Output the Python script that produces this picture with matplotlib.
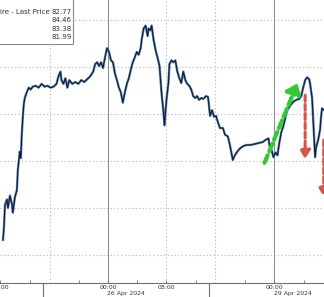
import matplotlib
matplotlib.use("Agg")
import matplotlib.pyplot as plt
from matplotlib.transforms import blended_transform_factory

# chart time in hours from 26 Apr 00:00 (weekend compressed as on the terminal)
hours = [-14.37, -14.24, -14.10, -13.83, -13.69, -13.42, -13.15, -13.02, -12.75, -12.47,
         -12.34, -12.07, -11.93, -11.80, -11.66, -11.53, -11.39, -11.12, -10.85, -10.58,
         -10.31, -9.90, -9.49, -9.08, -8.68, -8.27, -7.86, -7.46, -7.05, -6.78,
         -6.51, -6.37, -6.10, -5.83, -5.56, -5.29, -4.88, -4.47, -4.07, -3.66,
         -3.25, -2.85, -2.44, -2.03, -1.76, -1.49, -1.22, -0.95, -0.68, -0.41,
         -0.14, 0.14, 0.41, 0.68, 0.95, 1.22, 1.49, 1.76, 2.03, 2.31,
         2.58, 2.85, 3.12, 3.39, 3.66, 3.93, 4.20, 4.47, 4.61, 4.88,
         5.15, 5.42, 5.56, 5.83, 5.97, 6.24, 6.51, 6.78, 7.05, 7.32,
         7.59, 7.73, 8.00, 8.27, 8.41, 8.68, 8.95, 9.22, 9.49, 9.76,
         10.03, 10.31, 10.58, 10.85, 11.12, 11.39, 11.66, 11.93, 12.20, 12.47,
         12.75, 13.02, 13.42, 13.69, 13.97, 14.24, 14.51, 14.78, 15.05, 15.32,
         15.73, 16.00, 16.41, 16.68, 16.95, 17.08, 17.36, 17.63, 17.90, 18.17,
         18.58, 18.98, 19.53, 20.07, 20.61, 21.15, 21.69, 21.97, 22.10, 22.37,
         22.64, 22.92, 23.19, 23.46, 23.73, 24.00, 24.27, 24.54, 24.95, 25.36,
         25.76, 26.17, 26.44, 26.71, 26.98, 27.25, 27.53, 27.66, 27.93, 28.07,
         28.20, 28.34, 28.47, 28.75, 29.02, 29.15, 29.29, 29.56]
price = [82.16, 82.29, 82.53, 82.59, 82.50, 82.63, 82.54, 82.45, 82.61, 82.69,
         82.90, 83.10, 83.03, 83.28, 83.46, 83.60, 83.67, 83.73, 83.78, 83.76,
         83.79, 83.80, 83.78, 83.82, 83.79, 83.80, 83.78, 83.79, 83.82, 83.90,
         83.95, 83.86, 83.82, 83.88, 83.78, 83.86, 83.82, 83.84, 83.82, 83.86,
         83.84, 83.87, 83.90, 83.95, 84.03, 84.05, 84.01, 84.05, 83.99, 84.10,
         84.20, 84.16, 84.07, 84.05, 83.93, 83.86, 83.78, 83.73, 83.62, 83.73,
         83.82, 83.88, 83.97, 84.05, 84.10, 84.16, 84.13, 84.20, 84.29, 84.41,
         84.44, 84.33, 84.41, 84.39, 84.44, 84.29, 84.18, 84.10, 84.01, 83.73,
         83.52, 83.38, 83.65, 83.83, 84.03, 84.07, 84.05, 84.07, 83.95, 83.88,
         83.83, 83.95, 83.86, 83.82, 83.80, 83.76, 83.69, 83.67, 83.69, 83.65,
         83.67, 83.66, 83.69, 83.68, 83.48, 83.54, 83.47, 83.48, 83.41, 83.35,
         83.35, 83.28, 83.26, 83.17, 83.06, 83.01, 83.06, 83.09, 83.12, 83.14,
         83.16, 83.17, 83.17, 83.18, 83.19, 83.20, 83.23, 83.24, 83.16, 83.12,
         83.04, 83.09, 83.06, 83.20, 83.31, 83.37, 83.46, 83.54, 83.59, 83.63,
         83.65, 83.66, 83.69, 83.78, 83.86, 83.89, 83.87, 83.82, 83.67, 83.46,
         83.25, 83.04, 83.14, 83.22, 83.33, 83.46, 83.56, 83.54]

legend_values = ["82.77", "84.46", "83.38", "81.99"]
price_grid = [82.0, 82.5, 83.0, 83.5, 84.0, 84.5]
solid_vlines = [0.0, 22.78]
dotted_vlines = [-8.0, 8.0, 14.64]
day_breaks = [-8.95, 13.83]
tick_pos = [-14.78, 0.0, 8.0, 22.78]
tick_labels = ["16:00", "00:00", "08:00", "00:00"]
minor_pos = [-10.7, -4.0, 4.0, 12.0, 18.8, 26.8]
date_pos = [-0.1, 22.65]
date_labels = ["26 Apr 2024", "29 Apr 2024"]

fig = plt.figure(figsize=(3.24, 2.97), dpi=100)
ax = fig.add_axes([0, 0.047, 1, 0.953])
ax.set_xlim(-14.37, 29.56)
ax.set_ylim(81.70, 84.713)

for p in price_grid:
    ax.axhline(p, color="#b4b4b4", lw=0.8, ls=(0, (1, 2.2)), zorder=1)
for v in solid_vlines:
    ax.axvline(v, color="#909090", lw=0.8, zorder=1)
for v in dotted_vlines:
    ax.axvline(v, color="#b4b4b4", lw=0.8, ls=(0, (1, 2.2)), zorder=1)
for v in day_breaks:
    ax.axvline(v, ymin=-0.06, ymax=0, color="#707070", lw=0.8, clip_on=False)

ax.plot(hours, price, color="#5282c2", lw=1.7, zorder=3)
ax.plot(hours, price, color="#151b26", lw=0.8, zorder=4)

# annotation arrows
ax.annotate("", xy=(25.95, 83.83), xytext=(21.42, 82.98),
            arrowprops=dict(arrowstyle="-|>,head_length=0.6,head_width=0.45",
                            color="#34c934", lw=3, ls=(0, (2, 1)),
                            shrinkA=0, shrinkB=0), zorder=5)
ax.annotate("", xy=(26.98, 83.02), xytext=(26.98, 83.70),
            arrowprops=dict(arrowstyle="-|>,head_length=0.5,head_width=0.3",
                            color="#d9534f", lw=2.2, ls=(0, (2, 1)),
                            shrinkA=0, shrinkB=0), zorder=5)
ax.annotate("", xy=(29.52, 82.62), xytext=(29.52, 83.22),
            arrowprops=dict(arrowstyle="-|>,head_length=0.5,head_width=0.3",
                            color="#d9534f", lw=2.2, ls=(0, (2, 1)),
                            shrinkA=0, shrinkB=0), zorder=5)

for s in ["top", "left", "right"]:
    ax.spines[s].set_visible(False)
ax.spines["bottom"].set_color("#707070")
ax.spines["bottom"].set_linewidth(0.8)
ax.set_yticks([])
ax.set_xticks(tick_pos)
ax.set_xticklabels(tick_labels, fontsize=4.4, color="#333333")
ax.set_xticks(minor_pos, minor=True)
ax.tick_params(axis="x", which="both", direction="in", length=2.5,
               color="#707070", pad=1.2, width=0.6)

tr = blended_transform_factory(ax.transData, fig.transFigure)
for x, lab in zip(date_pos, date_labels):
    ax.text(x, 0.004, lab, transform=tr, fontsize=4.4, color="#333333",
            ha="left", va="bottom", clip_on=False)

# legend box, cut off at the left edge
fig.patches.append(plt.Rectangle((-0.1, 0.852), 0.325, 0.16, transform=fig.transFigure,
                                 facecolor="white", edgecolor="#8a8a8a", lw=0.8, zorder=10))
fig.text(0.154, 0.959, "ire - Last Price", fontsize=5, color="#333333",
         ha="right", va="center", zorder=11)
for i, val in enumerate(legend_values):
    fig.text(0.220, 0.959 - i * 0.028, val, fontsize=5, color="#333333",
             ha="right", va="center", zorder=11)

fig.savefig("out.png", dpi=100)
